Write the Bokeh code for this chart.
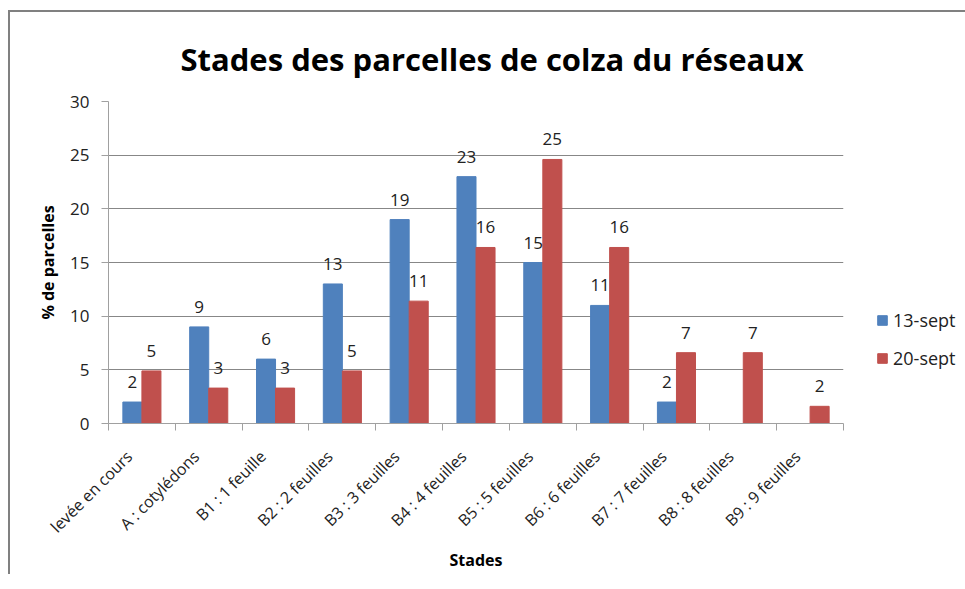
import math
from bokeh.plotting import figure
from bokeh.models import (ColumnDataSource, Range1d, LinearAxis, FixedTicker,
                          Legend, LegendItem, LabelSet, Title)
from bokeh.core.properties import value
from bokeh.transform import dodge
from bokeh.embed import file_html
from bokeh.resources import INLINE

# ---- data ----
stades = ["levée en cours", "A : cotylédons", "B1 : 1 feuille", "B2 : 2 feuilles",
          "B3 : 3 feuilles", "B4 : 4 feuilles", "B5 : 5 feuilles", "B6 : 6 feuilles",
          "B7 : 7 feuilles", "B8 : 8 feuilles", "B9 : 9 feuilles"]
sept13 = [2, 9, 6, 13, 19, 23, 15, 11, 2, 0, 0]
sept20 = [4.9, 3.3, 3.3, 4.9, 11.4, 16.4, 24.6, 16.4, 6.6, 6.6, 1.6]
series_names = ["13-sept", "20-sept"]
y_ticks = [0, 5, 10, 15, 20, 25, 30]

BLUE = "#4F81BD"
RED = "#C0504D"
GRID = "#878787"
AXIS = "#A0A0A0"
TXT = "#222222"
FONT = "Open Sans"

n = len(stades)
centers = [i + 0.5 for i in range(n)]  # category slot centres on a 0..n axis
LABEL_SHIFT = 0.19                      # visual anchor shift of rotated labels

source = ColumnDataSource(dict(
    xc=centers,
    s13=sept13,
    s20=sept20,
    lab13=[("%d" % round(v)) if v > 0 else "" for v in sept13],
    lab20=[("%d" % round(v)) if v > 0 else "" for v in sept20],
))

p = figure(x_range=Range1d(0, n), y_range=Range1d(0, 30),
           frame_width=735, frame_height=322,
           min_border_left=98, min_border_right=107,
           min_border_top=89, min_border_bottom=151,
           x_axis_type=None, output_backend="svg", toolbar_location=None,
           styles={"margin-top": "10px", "margin-left": "8px",
                   "border-top": "2px solid #808080",
                   "border-left": "2px solid #808080"})
p.outline_line_color = None
p.background_fill_color = "white"
p.border_fill_color = "white"

bw = 0.285
off = 0.1425
r1 = p.vbar(x=dodge("xc", -off), top="s13", width=bw,
            source=source, fill_color=BLUE, line_color=BLUE)
r2 = p.vbar(x=dodge("xc", off), top="s20", width=bw,
            source=source, fill_color=RED, line_color=RED)

for col, ytop, dx in (("lab13", "s13", -off), ("lab20", "s20", off)):
    p.add_layout(LabelSet(x=dodge("xc", dx), y=ytop, text=col,
                          source=source, text_align="center",
                          text_baseline="alphabetic", y_offset=14,
                          text_font=value(FONT), text_font_size="17px",
                          text_color=TXT))

# y axis
yax = p.yaxis[0]
yax.ticker = FixedTicker(ticks=y_ticks)
yax.major_label_text_font = FONT
yax.major_label_text_font_size = "17px"
yax.major_label_text_color = TXT
yax.major_tick_in = 0
yax.major_tick_out = 7
yax.major_label_standoff = 12
yax.minor_tick_line_color = None
yax.axis_line_color = AXIS
yax.major_tick_line_color = AXIS
yax.axis_label = "% de parcelles"
yax.axis_label_text_font = FONT
yax.axis_label_text_font_size = "16px"
yax.axis_label_text_font_style = "bold"
yax.axis_label_text_color = "black"
yax.axis_label_standoff = 8
p.ygrid.grid_line_color = GRID
p.ygrid.ticker = FixedTicker(ticks=y_ticks)

# x axis: boundary ticks, then category labels
bounds = list(range(n + 1))
tick_axis = LinearAxis(ticker=FixedTicker(ticks=bounds),
                       major_label_overrides={b: "" for b in bounds},
                       major_label_text_font_size="0px", major_label_standoff=0,
                       major_tick_in=0, major_tick_out=7,
                       minor_tick_line_color=None,
                       axis_line_color=AXIS, major_tick_line_color=AXIS)
p.add_layout(tick_axis, "below")

label_pos = [c - LABEL_SHIFT for c in centers]
cat_axis = LinearAxis(ticker=FixedTicker(ticks=label_pos),
                      major_label_overrides={c: s for c, s in zip(label_pos, stades)},
                      axis_line_color=None, major_tick_line_color=None,
                      minor_tick_line_color=None,
                      major_label_orientation=math.pi / 4,
                      major_label_text_font=FONT,
                      major_label_text_font_size="16px",
                      major_label_text_color=TXT,
                      major_label_standoff=17,
                      axis_label="Stades",
                      axis_label_text_font=FONT,
                      axis_label_text_font_size="16px",
                      axis_label_text_font_style="bold",
                      axis_label_text_color="black",
                      axis_label_standoff=1)
p.add_layout(cat_axis, "below")

# title
p.add_layout(Title(text="Stades des parcelles de colza du réseaux", align="left",
                   text_font=FONT, text_font_size="31px", text_font_style="bold",
                   text_color="black", text_line_height=1.0,
                   standoff=44, offset=72), "above")

legend = Legend(items=[LegendItem(label=series_names[0], renderers=[r1]),
                       LegendItem(label=series_names[1], renderers=[r2])],
                location=(33, 53), glyph_width=12, glyph_height=12,
                label_text_font=FONT, label_text_font_size="18px",
                label_text_color=TXT, label_height=20, label_standoff=5,
                spacing=14, padding=0, margin=0,
                border_line_color=None, background_fill_alpha=0)
p.add_layout(legend, "right")

open("out.html", "w").write(file_html(p, INLINE))
